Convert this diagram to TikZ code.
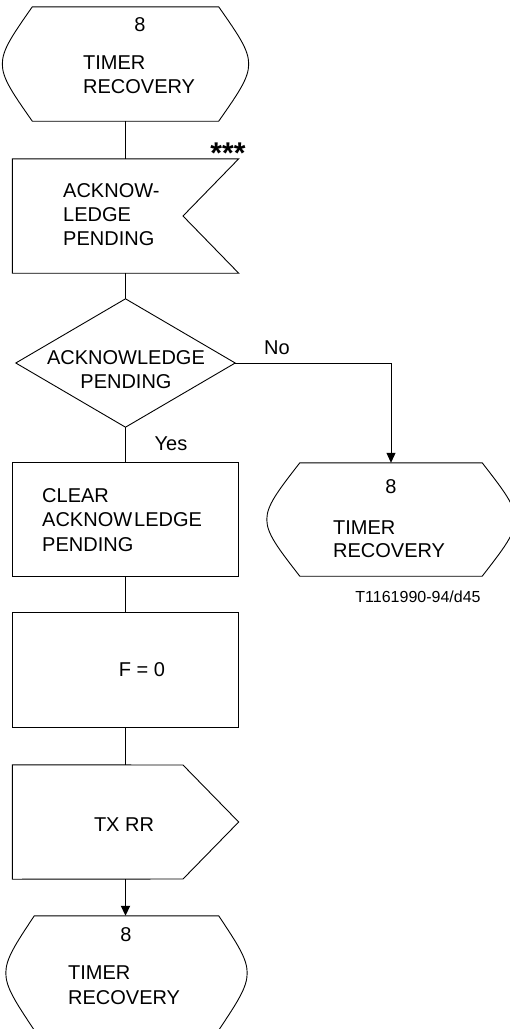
\documentclass[tikz,border=0pt]{standalone}
\usepackage{fontspec}
\setmainfont{Liberation Sans}
\usetikzlibrary{arrows.meta,calc}
\tikzset{
  shapebox/.style={draw=none,rectangle,inner sep=0pt},
  outline/.style={draw=black,line width=0.9pt},
  conn/.style={draw=black,line width=1.8pt},
  thinconn/.style={draw=black,line width=1pt},
  arr/.style={-{Triangle[width=9pt,length=10pt]}},
  txt/.style={inner sep=0pt,font=\fontsize{20}{24}\selectfont},
  lbl/.style={inner sep=0pt,anchor=base west,font=\fontsize{20}{24}\selectfont,align=left},
}
\newcommand{\terminal}[2]{% node name, bulge
  \draw[outline] (#1.north west) -- (#1.north east)
    .. controls ($(#1.east)+(2*#2,0)$) .. (#1.south east)
    -- (#1.south west)
    .. controls ($(#1.west)-(2*#2,0)$) .. (#1.north west) -- cycle;}
\begin{document}
\begin{tikzpicture}[x=1pt,y=-1pt]
\useasboundingbox (0,0) rectangle (510,1029);
% shapes (as nodes)
\node[shapebox,minimum width=186pt,minimum height=114pt] (t1) at (125.5,64) {};
\node[shapebox,minimum width=226pt,minimum height=114pt] (acq) at (125.5,216) {};
\node[shapebox,minimum width=219pt,minimum height=128pt] (dec) at (125.5,363) {};
\node[shapebox,minimum width=226pt,minimum height=113pt] (clr) at (125.5,519.5) {};
\node[shapebox,minimum width=182pt,minimum height=113pt] (t2) at (391,519.5) {};
\node[shapebox,minimum width=226pt,minimum height=114pt] (fz) at (125.5,670) {};
\node[shapebox,minimum width=226pt,minimum height=114pt] (tx) at (125.5,822) {};
\node[shapebox,minimum width=184pt,minimum height=114pt] (t3) at (126.5,973) {};

% outlines
\terminal{t1}{20}
\draw[outline] (acq.north west) -- (acq.north east) -- (183,216) -- (acq.south east) -- (acq.south west) -- cycle;
\draw[outline] (dec.north) -- (dec.east) -- (dec.south) -- (dec.west) -- cycle;
\draw[outline] (clr.north west) rectangle (clr.south east);
\terminal{t2}{22}
\draw[outline] (fz.north west) rectangle (fz.south east);
\draw[outline] (tx.north west) -- (183,765) -- (tx.east) -- (183,879) -- (tx.south west) -- cycle;
\terminal{t3}{19}

% texts
\node[txt] (t1n) at (140,25) {8};
\node[lbl] (t1l) at (83,93) {TIMER\\RECOVERY};
\node[inner sep=0pt,font=\fontsize{30}{30}\selectfont\bfseries] (stars) at (228,153) {***};
\node[lbl] (acql) at (63,245) {ACKNOW-\\LEDGE\\PENDING};
\node[txt,align=center] (decl) at (126,370) {ACKNOWLEDGE\\PENDING};
\node[txt] (no) at (277,348) {No};
\node[txt] (yes) at (171,444) {Yes};
\node[lbl,font=\fontsize{20}{24.5}\selectfont] (clrl) at (42,551) {CLEAR\\ACKNOW\hspace{0.1em}LEDGE\\PENDING};
\node[txt] (t2n) at (391,487) {8};
\node[lbl,font=\fontsize{20}{23}\selectfont] (t2l) at (333,557) {TIMER\\RECOVERY};
\node[inner sep=0pt,font=\fontsize{16}{16}\selectfont] (ref) at (418,597) {T1161990-94/d45};
\node[txt] (fzl) at (142,670) {F = 0};
\node[txt] (txl) at (124,825) {TX RR};
\node[txt] (t3n) at (126,935) {8};
\node[lbl,font=\fontsize{20}{25}\selectfont] (t3l) at (68,1004) {TIMER\\RECOVERY};

% connectors
\draw[conn] (t1.south) -- (acq.north);
\draw[conn] (acq.south) -- (dec.north);
\draw[conn] (dec.south) -- (clr.north);
\draw[thinconn,arr] (dec.east) -| (t2.north);
\draw[conn] (clr.south) -- (fz.north);
\draw[conn] (fz.south) -- (tx.north);
\draw[conn,arr] (tx.south) -- (t3.north -| tx.south);
\end{tikzpicture}
\end{document}
